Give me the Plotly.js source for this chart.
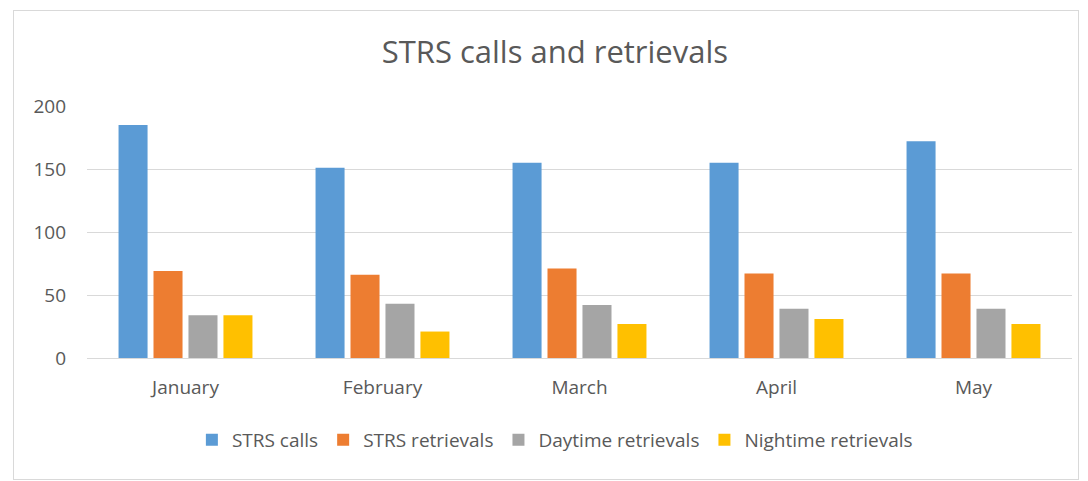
<!DOCTYPE html>
<html>
<head>
<meta charset="utf-8">
<script src="https://cdn.plot.ly/plotly-3.0.1.min.js"></script>
<style>
  html, body { margin: 0; padding: 0; background: #fff; }
  #wrap { position: relative; width: 1088px; height: 481px; }
  #chart { width: 1088px; height: 481px; }
  #frame { position: absolute; left: 13px; top: 10px; width: 1064px; height: 468px;
           border: 1px solid #d9d9d9; pointer-events: none; }
</style>
</head>
<body>
<div id="wrap">
  <div id="chart"></div>
  <div id="frame"></div>
</div>
<script>
const months = ["January", "February", "March", "April", "May"];
const strsCalls = [185, 151, 155, 155, 172];
const strsRetrievals = [69, 66, 71, 67, 67];
const daytimeRetrievals = [34, 43, 42, 39, 39];
const nightimeRetrievals = [34, 21, 27, 31, 27];
const seriesNames = ["STRS calls", "STRS retrievals", "Daytime retrievals", "Nightime retrievals"];
const seriesColors = ["#5B9BD5", "#ED7D31", "#A5A5A5", "#FFC000"];
const yTicks = [0, 50, 100, 150, 200];

const seriesValues = [strsCalls, strsRetrievals, daytimeRetrievals, nightimeRetrievals];
const traces = seriesValues.map((vals, i) => ({
  type: "bar",
  x: months,
  y: vals,
  name: seriesNames[i],
  marker: { color: seriesColors[i], line: { width: 0 } },
  hoverinfo: "x+y+name"
}));

const font = "'Open Sans', 'Noto Sans', sans-serif";
const layout = {
  width: 1088,
  height: 481,
  margin: { l: 87, r: 16, t: 106, b: 123 },
  paper_bgcolor: "#ffffff",
  plot_bgcolor: "#ffffff",
  font: { family: font, color: "#595959", size: 19 },
  title: {
    text: "STRS calls and retrievals",
    font: { family: font, size: 31, color: "#595959" },
    x: 0.51, xanchor: "center",
    y: 1 - 52 / 481, yanchor: "middle", yref: "container"
  },
  barmode: "group",
  bargap: 0.29,
  bargroupgap: 0.17,
  xaxis: {
    type: "category",
    showgrid: false,
    showline: true,
    linecolor: "#d9d9d9",
    linewidth: 1,
    ticks: "",
    tickfont: { family: font, size: 19, color: "#595959" },
    ticklabelstandoff: 12,
    zeroline: false
  },
  yaxis: {
    range: [0, 200],
    tickvals: yTicks,
    ticktext: yTicks.map(String),
    showgrid: true,
    gridcolor: "#d9d9d9",
    gridwidth: 1,
    zeroline: false,
    showline: false,
    ticks: "",
    tickfont: { family: font, size: 19, color: "#595959" },
    ticklabelstandoff: 20,
    fixedrange: true
  },
  showlegend: true,
  legend: {
    orientation: "h",
    x: 0.475, xanchor: "center",
    y: -0.325, yanchor: "middle",
    font: { family: font, size: 19, color: "#595959" },
    itemwidth: 30,
    traceorder: "normal"
  }
};

Plotly.newPlot("chart", traces, layout, { displayModeBar: false, staticPlot: true });
</script>
</body>
</html>
